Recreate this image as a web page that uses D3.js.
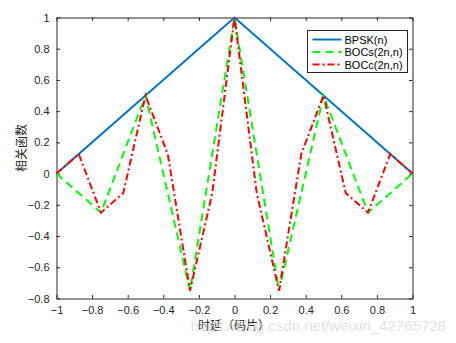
<!DOCTYPE html>
<html>
<head>
<meta charset="utf-8">
<script src="https://cdn.jsdelivr.net/npm/d3@7"></script>
<style>
  html, body { margin: 0; padding: 0; background: #fff; }
  svg { display: block; }
  text { font-family: "Liberation Sans", Arial, sans-serif; }
</style>
</head>
<body>
<svg id="chart" width="456" height="343"></svg>
<script>
// Delay in chips
const tauBPSK = [-1, 0, 1];
const rBPSK = [0, 1, 0];

const tauBOCs = [-1, -0.75, -0.5, -0.25, 0, 0.25, 0.5, 0.75, 1];
const rBOCs = [0, -0.25, 0.5, -0.75, 1, -0.75, 0.5, -0.25, 0];

const tauBOCc = [-1, -0.875, -0.75, -0.625, -0.5, -0.375, -0.25, -0.125, 0,
                 0.125, 0.25, 0.375, 0.5, 0.625, 0.75, 0.875, 1];
const rBOCc = [0, 0.125, -0.25, -0.125, 0.5, 0.125, -0.75, -0.125, 1,
               -0.125, -0.75, 0.125, 0.5, -0.125, -0.25, 0.125, 0];

const xTicks = [-1, -0.8, -0.6, -0.4, -0.2, 0, 0.2, 0.4, 0.6, 0.8, 1];
const yTicks = [-0.8, -0.6, -0.4, -0.2, 0, 0.2, 0.4, 0.6, 0.8, 1];

const seriesNames = ["BPSK(n)", "BOCs(2n,n)", "BOCc(2n,n)"];

const svg = d3.select("#chart");
const mLeft = 56.5, mRight = 412.5, mTop = 17.5, mBottom = 298.5;

const x = d3.scaleLinear().domain([-1, 1]).range([mLeft, mRight]);
const y = d3.scaleLinear().domain([-0.8, 1]).range([mBottom, mTop]);

const axisColor = "#262626";
const tickLen = 3.5;

// Axes box with ticks on all four sides
const axisStyle = g => {
  g.selectAll(".domain").attr("stroke", axisColor).attr("stroke-width", 1);
  g.selectAll(".tick line").attr("stroke", axisColor);
  g.selectAll(".tick text").attr("fill", "#262626").style("font-size", "11px")
    .style("font-family", "Liberation Sans, Arial, sans-serif");
};

svg.append("g").attr("transform", `translate(0,${mBottom})`)
  .call(d3.axisBottom(x).tickValues(xTicks).tickSize(-tickLen).tickPadding(8)
    .tickFormat(d3.format("~g")).tickSizeOuter(0))
  .call(axisStyle);
svg.append("g").attr("transform", `translate(0,${mTop})`)
  .call(d3.axisTop(x).tickValues(xTicks).tickSize(-tickLen).tickFormat("").tickSizeOuter(0))
  .call(axisStyle);
svg.append("g").attr("transform", `translate(${mLeft},0)`)
  .call(d3.axisLeft(y).tickValues(yTicks).tickSize(-tickLen).tickPadding(7)
    .tickFormat(d3.format("~g")).tickSizeOuter(0))
  .call(axisStyle);
svg.append("g").attr("transform", `translate(${mRight},0)`)
  .call(d3.axisRight(y).tickValues(yTicks).tickSize(-tickLen).tickFormat("").tickSizeOuter(0))
  .call(axisStyle);

// Curves
const line = d3.line().x(d => x(d[0])).y(d => y(d[1]));
const series = [
  { name: seriesNames[0], pts: d3.zip(tauBPSK, rBPSK), color: "#0072BD", dash: null },
  { name: seriesNames[1], pts: d3.zip(tauBOCs, rBOCs), color: "#00FF00", dash: "8,5" },
  { name: seriesNames[2], pts: d3.zip(tauBOCc, rBOCc), color: "#FF0000", dash: "7,3,2,3" }
];

const plot = svg.append("g");
series.forEach(s => {
  plot.append("path").datum(s.pts)
    .attr("d", line)
    .attr("fill", "none")
    .attr("stroke", s.color)
    .attr("stroke-width", 2)
    .attr("stroke-linejoin", "miter")
    .attr("stroke-dasharray", s.dash);
});

// Legend
const lg = svg.append("g").attr("transform", "translate(307.5,30.5)");
lg.append("rect").attr("width", 100).attr("height", 42)
  .attr("fill", "#fff").attr("stroke", axisColor).attr("stroke-width", 1);
series.forEach((s, i) => {
  const yy = 9 + i * 12.5;
  lg.append("line").attr("x1", 5).attr("x2", 34).attr("y1", yy).attr("y2", yy)
    .attr("stroke", s.color).attr("stroke-width", 2).attr("stroke-dasharray", s.dash);
  lg.append("text").attr("x", 37).attr("y", yy + 4)
    .style("font-size", "11px").attr("fill", "#000").text(s.name);
});

// Axis titles
svg.append("text")
  .attr("transform", `translate(26,${(mTop + mBottom) / 2 - 10}) rotate(-90)`)
  .attr("text-anchor", "middle")
  .style("font-family", "Noto Sans CJK SC, sans-serif")
  .style("font-size", "12px").attr("fill", "#262626")
  .text("相关函数");

svg.append("text")
  .attr("x", 234).attr("y", 330)
  .attr("text-anchor", "middle")
  .style("font-family", "Noto Sans CJK SC, sans-serif")
  .style("font-size", "12px").attr("fill", "#262626")
  .text("时延（码片）");

// Blog address overlay
svg.append("text")
  .attr("x", 446).attr("y", 331)
  .attr("text-anchor", "end")
  .style("font-size", "15px").attr("fill", "#d9d9d9").attr("fill-opacity", 0.8)
  .text("https://blog.csdn.net/weixin_42765728");
</script>
</body>
</html>
